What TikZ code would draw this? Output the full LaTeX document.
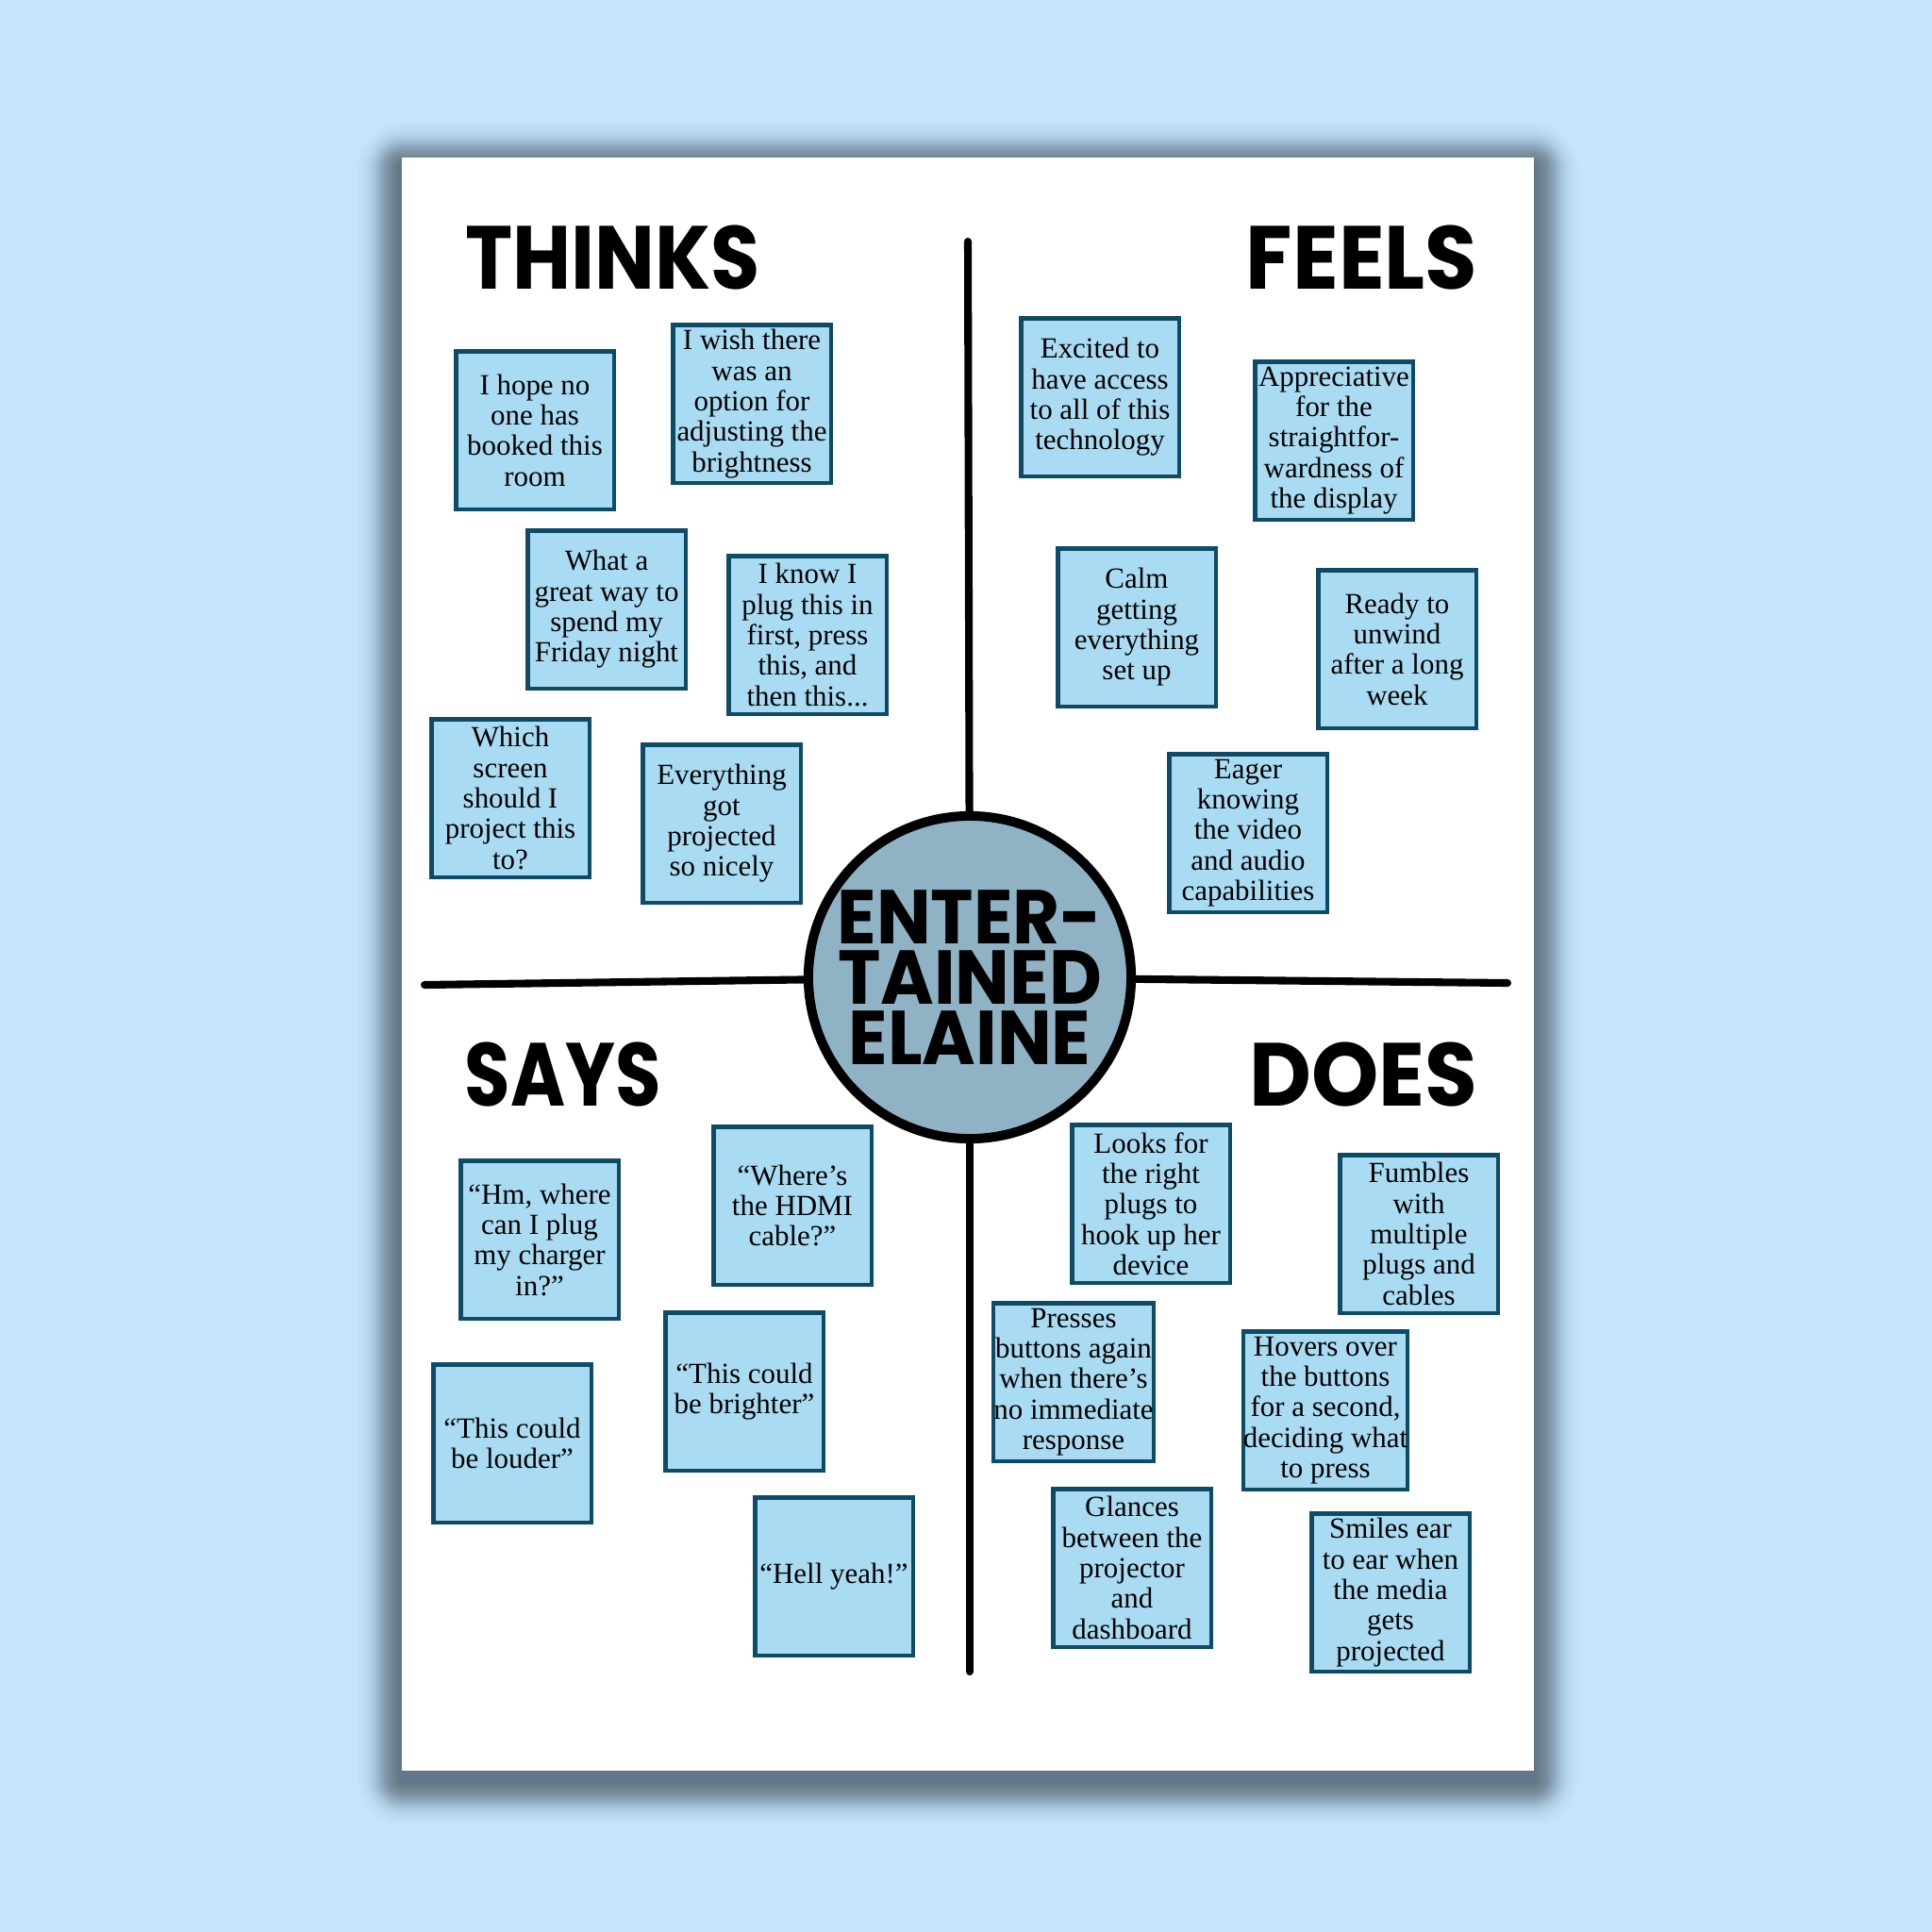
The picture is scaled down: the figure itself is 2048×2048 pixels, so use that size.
\documentclass[tikz,border=0pt]{standalone}
\usepackage{fontspec}
\setmainfont{Liberation Serif}
\newfontfamily\notefont{Liberation Serif}
\newfontfamily\headfont{Poppins}
\usetikzlibrary{positioning}

\definecolor{bgblue}{HTML}{C6E5FB}
\definecolor{notefill}{HTML}{A9DCF3}
\definecolor{noteedge}{HTML}{0E4B66}
\definecolor{hubfill}{HTML}{8FB3C5}

\begin{document}
\begin{tikzpicture}[
  x=0.01cm, y=-0.01cm,
  every node/.style={font=\notefont\fontsize{8.8}{9.2}\selectfont},
  note/.style={draw=noteedge, line width=1.15pt, fill=notefill, align=center,
               minimum width=47.5pt, minimum height=47.5pt, inner sep=0pt},
  heading/.style={font=\headfont\bfseries\fontsize{27}{27}\selectfont, inner sep=0pt},
  hub/.style={circle, draw=black, line width=2.85pt, fill=hubfill, minimum size=97.3pt,
              inner sep=0pt},
  hubtext/.style={align=center, inner sep=0pt, xscale=0.95,
              font=\headfont\bfseries\fontsize{23}{18.2}\selectfont},
  axis/.style={line width=2.3pt, line cap=round}
]

% ===== Backdrop: page, shadow, paper =====
\fill[bgblue] (0,0) rectangle (2048,2048);
\useasboundingbox (0,0) rectangle (2048,2048);
\foreach \s in {1,...,60}{
  \pgfmathsetmacro\op{0.00165*\s*exp(-(\s/25)^2)}
  \fill[black, opacity=\op, rounded corners={\s*0.3pt}]
    (426-\s,167-\s+10) rectangle (1626+\s,1877+\s+10);
}
\fill[white] (426,167) rectangle (1626,1877);

% ===== Hub and quadrant axes =====
\node[hub] (hub) at (1028,1036) {};
\node[hubtext] (hubLabel) at (hub.center) {ENTER-\\TAINED\\ELAINE};
\coordinate (axTop) at (1026,256);
\coordinate (axBot) at (1028,1772);
\coordinate (axLeft) at (450,1044);
\coordinate (axRight) at (1598,1042);
\draw[axis] (axTop) -- (hub);
\draw[axis] (axBot) -- (hub);
\draw[axis] (axLeft) -- (hub);
\draw[axis] (axRight) -- (hub);

% ===== Quadrant headings =====
\node[heading, anchor=base west, xscale=0.894] (thinks) at (493,306) {THINKS};
\node[heading, anchor=base east, xscale=0.95] (feels) at (1567,306) {FEELS};
\node[heading, anchor=base west, xscale=0.83] (says) at (492,1172) {SAYS};
\node[heading, anchor=base east, xscale=0.955] (does) at (1567,1172) {DOES};

% ----- Thinks -----
\node[note] (hopeRoom) at (567,456) {I hope no\\one has\\booked this\\room};
\node[note] (wishBright) at (797,428) {I wish there\\was an\\option for\\adjusting the\\brightness};
\node[note] (fridayNight) at (643,646) {What a\\great way to\\spend my\\Friday night};
\node[note] (plugFirst) at (856,673) {I know I\\plug this in\\first, press\\this, and\\then this...};
\node[note] (whichScreen) at (541,846) {Which\\screen\\should I\\project this\\to?};
\node[note] (gotProjected) at (765,873) {Everything\\got\\projected\\so nicely};

% ----- Feels -----
\node[note] (excited) at (1166,421) {Excited to\\have access\\to all of this\\technology};
\node[note] (appreciative) at (1414,467) {Appreciative\\for the\\straightfor-\\wardness of\\the display};
\node[note] (calm) at (1205,665) {Calm\\getting\\everything\\set up};
\node[note] (unwind) at (1481,688) {Ready to\\unwind\\after a long\\week};
\node[note] (eager) at (1323,883) {Eager\\knowing\\the video\\and audio\\capabilities};

% ----- Says -----
\node[note] (charger) at (572,1314) {“Hm, where\\can I plug\\my charger\\in?”};
\node[note] (hdmi) at (840,1278) {“Where’s\\the HDMI\\cable?”};
\node[note] (louder) at (543,1530) {“This could\\be louder”};
\node[note] (brighter) at (789,1475) {“This could\\be brighter”};
\node[note] (hellYeah) at (884,1671) {“Hell yeah!”};

% ----- Does -----
\node[note] (looksPlugs) at (1220,1276) {Looks for\\the right\\plugs to\\hook up her\\device};
\node[note] (fumbles) at (1504,1308) {Fumbles\\with\\multiple\\plugs and\\cables};
\node[note] (presses) at (1138,1465) {Presses\\buttons again\\when there’s\\no immediate\\response};
\node[note] (hovers) at (1405,1495) {Hovers over\\the buttons\\for a second,\\deciding what\\to press};
\node[note] (glances) at (1200,1662) {Glances\\between the\\projector\\and\\dashboard};
\node[note] (smiles) at (1474,1688) {Smiles ear\\to ear when\\the media\\gets\\projected};
\end{tikzpicture}
\end{document}
